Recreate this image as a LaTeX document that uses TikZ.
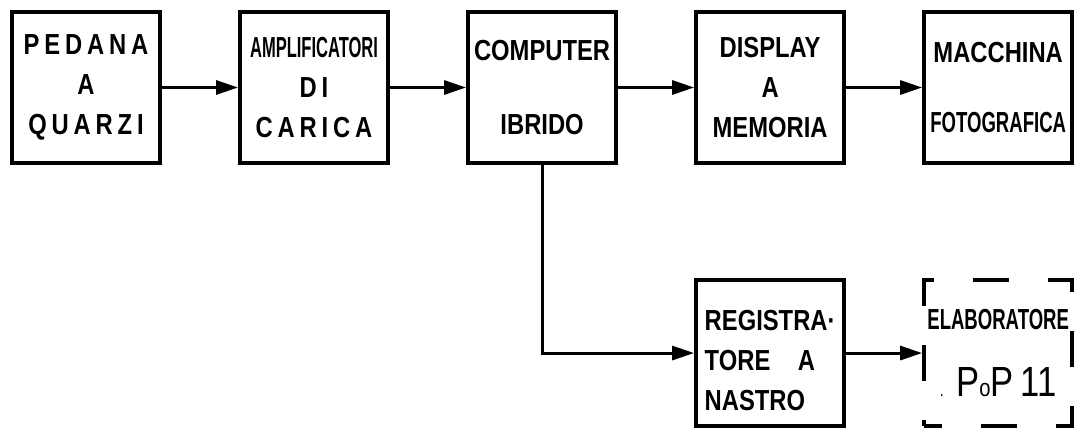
\documentclass[tikz,border=0pt]{standalone}
\usepackage{fontspec}
\setmainfont[FakeStretch=0.82]{Liberation Sans}
\newfontfamily\narrowfont[FakeStretch=0.57]{Liberation Sans}
\newfontfamily\halfnarrowfont[FakeStretch=0.64]{Liberation Sans}
\usetikzlibrary{arrows.meta,positioning}

\begin{document}
\begin{tikzpicture}[
    every node/.style={font=\fontsize{16.5}{22.8}\selectfont\bfseries},
    blk/.style={rectangle, draw, line width=2.3pt, align=center, inner sep=0pt, minimum width=2.96cm, minimum height=3.02cm},
    lowblk/.style={blk, minimum height=2.92cm},
    dashblk/.style={lowblk, dash pattern=on 0.72cm off 0.78cm, dash phase=0.36cm},
    arr/.style={-{Triangle[length=0.44cm, width=0.28cm]}, line width=1.7pt},
]
\useasboundingbox (0,0) rectangle (21.58,-8.62);
\node[blk] (pedana) at (1.72,-1.75) {P\,E\,D\,A\,N\,A\\A\\Q\,U\,A\,R\,Z\,I};
\node[blk, right=1.52cm of pedana] (ampli) {{\narrowfont AMPLIFICATORI}\\D\,I\\C\,A\,R\,I\,C\,A};
\node[blk, right=1.52cm of ampli] (computer) {COMPUTER\\[0.68cm]IBRIDO};
\node[blk, right=1.52cm of computer] (display) {DISPLAY\\A\\MEMORIA};
\node[blk, right=1.52cm of display] (macchina) {MACCHINA\\[0.6cm]{\halfnarrowfont FOTOGRAFICA}};
\node[lowblk, below=2.26cm of display, align=left] (registra) {\rule{0pt}{0.72cm}REGISTRA·\\TORE\hspace{0.55cm}A\\NASTRO};
\node[dashblk, right=1.52cm of registra] (elab) {{\halfnarrowfont ELABORATORE}\\[0.55cm]{\fontsize{24}{24}\selectfont\mdseries{\fontsize{10}{10}\selectfont.}\hspace{0.25cm}P{\fontsize{14}{14}\selectfont o}P\,11}};
\draw[arr] (pedana) -- (ampli); \draw[arr] (ampli) -- (computer);
\draw[arr] (computer) -- (display); \draw[arr] (display) -- (macchina);
\draw[arr] (computer.south) |- (registra.west);
\draw[arr] (registra) -- (elab);
\end{tikzpicture}
\end{document}
